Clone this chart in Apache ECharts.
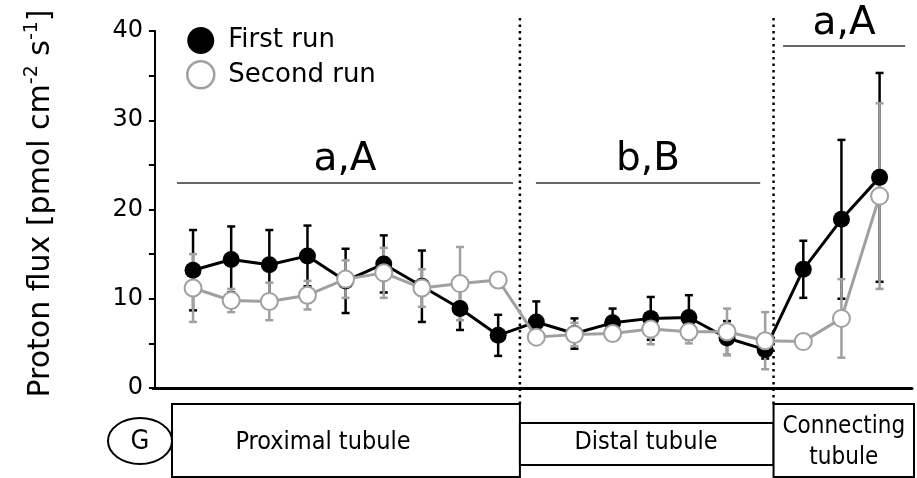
<!DOCTYPE html>
<html>
<head>
<meta charset="utf-8">
<script src="https://cdn.jsdelivr.net/npm/echarts@6/dist/echarts.min.js"></script>
<style>html,body{margin:0;padding:0;background:#fff}#c{width:917px;height:478px}</style>
</head>
<body>
<div id="c"></div>
<script>
// measurement sites along the nephron (1-9 proximal, 10-16 distal, 17-19 connecting)
const sites = [1,2,3,4,5,6,7,8,9,10,11,12,13,14,15,16,17,18,19];
const firstRun = [13.2,14.4,13.8,14.8,12.0,13.9,11.4,8.9,5.9, 7.4,6.1,7.3,7.8,7.9,5.6,4.3, 13.3,18.9,23.6];
const firstErr = [4.5,3.7,3.9,3.4,3.6,3.2,4.0,2.4,2.3, 2.3,1.7,1.6,2.4,2.5,1.9,1.0, 3.2,8.9,11.7];
const secondRun = [11.2,9.8,9.7,10.4,12.2,12.9,11.2,11.7,12.1, 5.7,6.0,6.1,6.6,6.3,6.3,5.3, 5.2,7.8,21.5];
const secondErr = [3.8,1.3,2.1,1.6,2.1,2.8,2.1,4.1,0.3, 0.3,1.3,0.3,1.7,1.3,2.6,3.2, 0.2,4.4,10.4];
const yTicks = [0,10,20,30,40];
const segmentBounds = [9.57, 16.22];
const groupLabels = [
  {text:'a,A', from:0.58, to:9.39, y:23.0},
  {text:'b,B', from:9.99, to:15.87, y:23.0},
  {text:'a,A', from:16.47, to:19.67, y:38.3}
];
const FONT = 'DejaVu Sans';
const FONT_C = 'DejaVu Sans Condensed, DejaVu Sans';
const BLACK = '#000000', GREY = '#a0a0a0';

const chart = echarts.init(document.getElementById('c'), null, {renderer:'canvas'});

function errSeries(name, vals, errs, color, z){
  return {
    name: name, type:'custom', z:z, silent:true,
    data: sites.map((s,i)=>[s, vals[i]-errs[i], vals[i]+errs[i]]),
    renderItem: function(params, api){
      const x = api.value(0);
      const a = api.coord([x, api.value(2)]);
      const b = api.coord([x, api.value(1)]);
      const w = 4;
      const st = {stroke:color, lineWidth:2.5};
      return {type:'group', children:[
        {type:'line', shape:{x1:a[0],y1:a[1],x2:b[0],y2:b[1]}, style:st},
        {type:'line', shape:{x1:a[0]-w,y1:a[1],x2:a[0]+w,y2:a[1]}, style:st},
        {type:'line', shape:{x1:b[0]-w,y1:b[1],x2:b[0]+w,y2:b[1]}, style:st}
      ]};
    }
  };
}

const option = {
  animation:false,
  backgroundColor:'#fff',
  textStyle:{fontFamily:FONT},
  grid:{left:153, right:5, top:31, bottom:90},
  legend:{
    orient:'vertical', left:181, top:22, itemWidth:27, itemHeight:27, itemGap:6,
    textStyle:{fontFamily:FONT, fontSize:26, color:'#000', padding:[0,0,0,9]},
    data:[
      {name:'First run', icon:'circle', itemStyle:{color:BLACK, borderWidth:0}},
      {name:'Second run', icon:'circle', itemStyle:{color:'#fff', borderColor:GREY, borderWidth:2.5}}
    ],
    selectedMode:false
  },
  xAxis:{
    type:'value', min:-0.05, max:19.85,
    axisLine:{show:true, onZero:false, lineStyle:{color:'#000', width:3}},
    axisTick:{show:false}, axisLabel:{show:false}, splitLine:{show:false}
  },
  yAxis:{
    type:'value', min:0, max:40, interval:10,
    name:'Proton flux [pmol cm{sup|-2} s{sup|-1}]',
    nameLocation:'middle', nameRotate:90, nameGap:94,
    nameTextStyle:{fontFamily:FONT, fontSize:30, color:'#000', padding:[0,0,0,12],
      rich:{sup:{fontFamily:FONT, fontSize:19, color:'#000', padding:[0,0,17,0]}}},
    axisLine:{show:true, lineStyle:{color:'#000', width:2}},
    axisTick:{show:true, length:6, lineStyle:{color:'#000', width:2}},
    minorTick:{show:true, splitNumber:2, length:6, lineStyle:{color:'#000', width:2}},
    axisLabel:{fontFamily:FONT, fontSize:24, color:'#000', margin:10,
      formatter: v => yTicks.includes(v) ? String(v) : ''},
    splitLine:{show:false}
  },
  series:[
    errSeries('errFirst', firstRun, firstErr, BLACK, 1),
    errSeries('errSecond', secondRun, secondErr, GREY, 2),
    {
      name:'First run', type:'line', z:3,
      data: sites.map((s,i)=>[s, firstRun[i]]),
      symbol:'circle', symbolSize:17,
      lineStyle:{color:BLACK, width:3}, itemStyle:{color:BLACK},
      markLine:{
        silent:true, symbol:'none', animation:false,
        lineStyle:{color:'#333', width:1.5, type:'solid'},
        label:{show:true, position:'insideMiddleTop', distance:3, fontFamily:FONT, fontSize:39, color:'#000', formatter: p => p.name},
        data: groupLabels.map(g => [
          {name:g.text, coord:[g.from, g.y]},
          {coord:[g.to, g.y]}
        ])
      }
    },
    {
      name:'Second run', type:'line', z:4,
      data: sites.map((s,i)=>[s, secondRun[i]]),
      symbol:'emptyCircle', symbolSize:17,
      lineStyle:{color:GREY, width:3}, itemStyle:{color:GREY, borderWidth:2.5}
    }
  ]
};
chart.setOption(option);

const bx = segmentBounds.map(v => chart.convertToPixel({xAxisIndex:0}, v));
const boxTop = 404, boxBot = 477;
const txt = (x,y,t,fs) => ({type:'text', x:x, y:y, style:{text:t, fontFamily:FONT_C, fontSize:fs, fill:'#000', align:'center', verticalAlign:'middle'}});
const dots = {stroke:'#000', lineWidth:2.5, lineDash:[2.5,4]};
chart.setOption({graphic:[
  {type:'line', shape:{x1:bx[0], y1:18, x2:bx[0], y2:boxTop}, style:dots, z:0},
  {type:'line', shape:{x1:bx[1], y1:18, x2:bx[1], y2:boxTop}, style:dots, z:0},
  {type:'ellipse', shape:{cx:140, cy:441, rx:32, ry:23}, style:{fill:'#fff', stroke:'#000', lineWidth:2}},
  txt(140, 442, 'G', 27),
  {type:'rect', shape:{x:172, y:boxTop, width:bx[0]-172, height:boxBot-boxTop}, style:{fill:'#fff', stroke:'#000', lineWidth:2}},
  {type:'rect', shape:{x:bx[0], y:423, width:bx[1]-bx[0], height:42}, style:{fill:'#fff', stroke:'#000', lineWidth:2}},
  {type:'rect', shape:{x:bx[1], y:boxTop, width:914-bx[1], height:boxBot-boxTop}, style:{fill:'#fff', stroke:'#000', lineWidth:2}},
  txt(323, 442, 'Proximal tubule', 25),
  txt(646, 442, 'Distal tubule', 25),
  txt((bx[1]+914)/2, 427, 'Connecting', 24),
  txt((bx[1]+914)/2, 458, 'tubule', 24)
]});
</script>
</body>
</html>
